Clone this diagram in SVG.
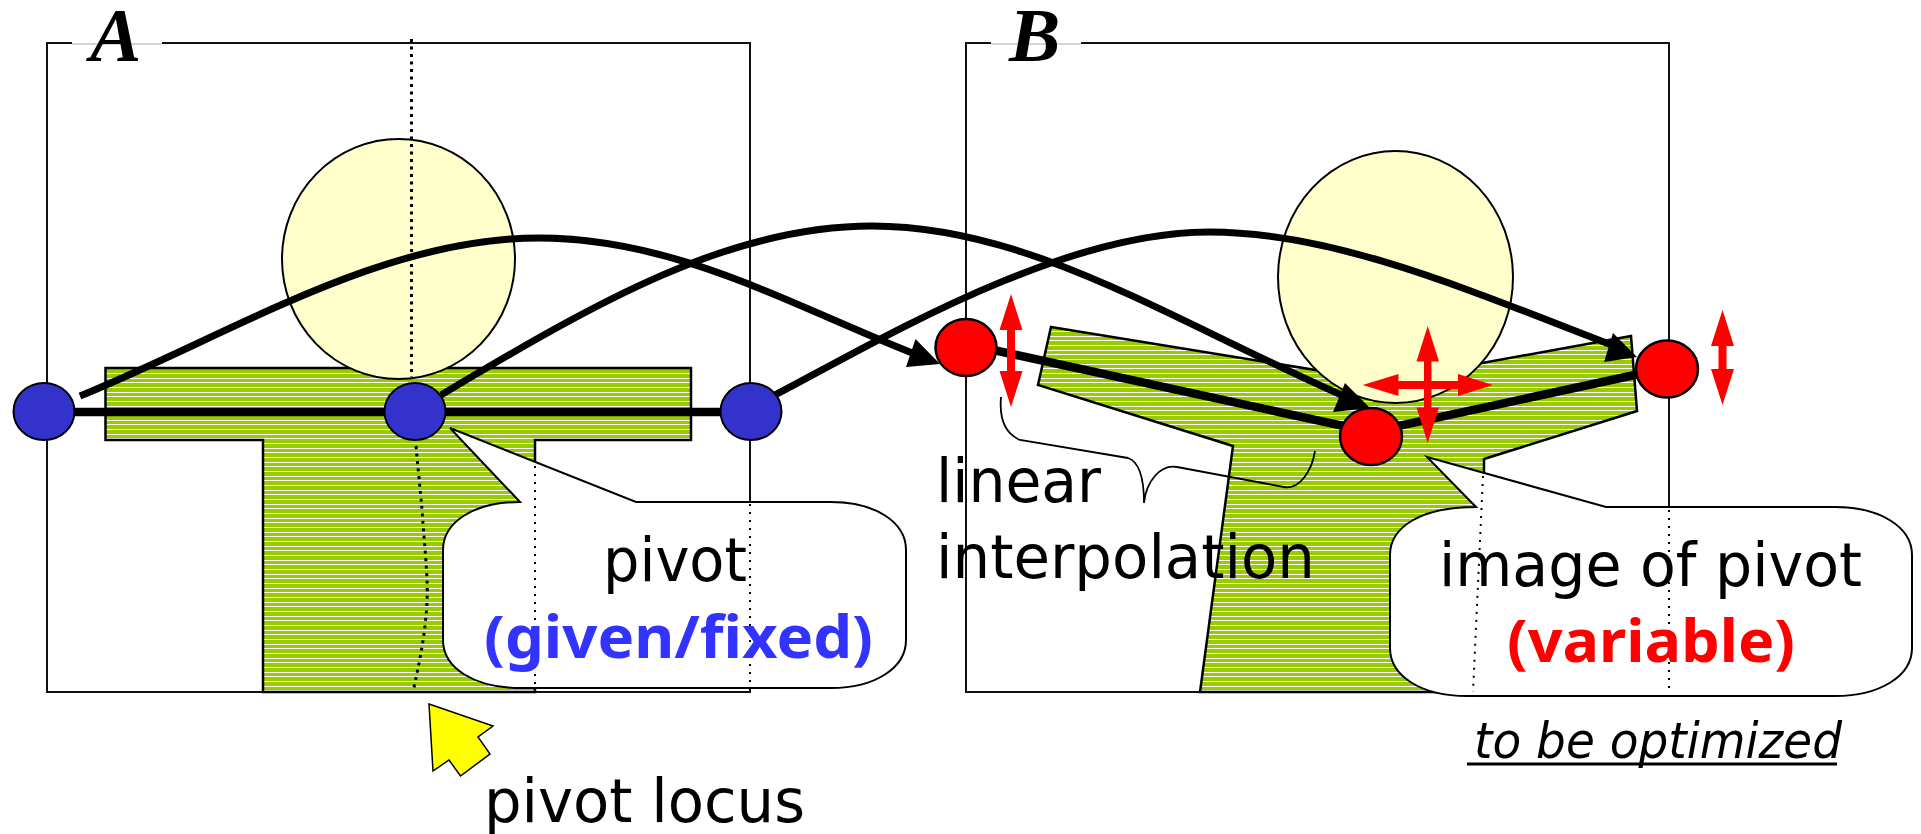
<svg xmlns="http://www.w3.org/2000/svg" width="1921" height="834" viewBox="0 0 1921 834">
  <style>
    .frame { fill: none; stroke: #111; stroke-width: 2; }
    .gap { stroke: #fff; stroke-width: 3; }
    .gapline { stroke: #aaa; stroke-width: 1; }
    .body { fill: url(#stripes); stroke: #000; stroke-width: 2.5; }
    .head { fill: #ffffcc; stroke: #000; stroke-width: 2; }
    .fixed { fill: #3333cc; stroke: #000; stroke-width: 2; }
    .var { fill: #ff0000; stroke: #000; stroke-width: 2.5; }
    .bubble { fill: #fff; stroke: #000; stroke-width: 2; }
    .thick { fill: none; stroke: #000; stroke-width: 8.5; }
    .curve { fill: none; stroke: #000; stroke-width: 7; stroke-linejoin: round; }
    .tip { fill: #000; }
    .dots { fill: none; stroke: #000; stroke-width: 3; stroke-dasharray: 3 4.5; }
    .fine { fill: none; stroke: #000; stroke-width: 2; stroke-dasharray: 2 6; }
    .move { fill: #ff0000; }
    .letter { font-family: "Liberation Serif", serif; font-weight: bold; font-style: italic; font-size: 77px; fill: #000; }
    .t { font-family: "DejaVu Sans", sans-serif; font-size: 60px; fill: #000; }
    .b { font-family: "Noto Sans", "DejaVu Sans", sans-serif; font-weight: bold; font-size: 60px; }
    .i { font-family: "DejaVu Sans", sans-serif; font-style: italic; font-size: 50px; fill: #000; }
  </style>
  <defs>
    <pattern id="stripes" patternUnits="userSpaceOnUse" width="14" height="14">
      <rect width="14" height="14" fill="#99cc00"/>
      <rect y="0" width="14" height="1" fill="#fff"/>
      <rect y="4" width="14" height="1" fill="#fff"/>
      <rect y="9" width="14" height="1" fill="#fff"/>
    </pattern>
  </defs>

  <g id="panel-a">
    <rect class="frame" x="47" y="43" width="703" height="649"/>
    <path class="gap" d="M72 43H162"/>
    <path class="gapline" d="M72 44H162"/>
    <text class="letter" x="90" y="61">A</text>
    <path class="body" d="M105.500 368H691V440H535V692H263V440H105.500Z"/>
    <ellipse class="head" cx="398.500" cy="259" rx="116.500" ry="120"/>
    <path class="dots" d="M411.500 39V377"/>
    <path id="pivot-locus" class="dots" d="M416 446C419 480 422 505 423 524C426 560 428 585 427 600C426 630 420 660 413 692"/>
  </g>

  <g id="panel-b">
    <rect class="frame" x="966" y="43" width="703" height="649"/>
    <path class="gap" d="M991 43H1081"/>
    <path class="gapline" d="M991 44H1081"/>
    <text class="letter" x="1009" y="61">B</text>
    <path class="body" d="M1051 327L1383 381L1631 336L1637 411L1484 459L1484 472L1473 692H1200L1233 446L1038 385Z"/>
    <ellipse class="head" cx="1395.500" cy="277" rx="117.500" ry="126"/>
  </g>

  <g id="callout-pivot">
    <path class="bubble" d="M520 502L450 428L636 502H831C875 502 906 522 906 550V640C906 668 875 688 831 688H521C474 688 443 668 443 640V550C443 522 474 502 520 502Z"/>
    <path class="fine" d="M535 466V688M750 504V688"/>
    <text class="t" x="675" y="581" text-anchor="middle" textLength="144" lengthAdjust="spacingAndGlyphs">pivot</text>
    <text class="b" x="678.500" y="658" text-anchor="middle" fill="#3333ff" textLength="389" lengthAdjust="spacingAndGlyphs">(given/fixed)</text>
  </g>

  <g id="callout-image">
    <path class="bubble" d="M1476 507L1427 457L1606 507H1835C1880 507 1912 527 1912 555V648C1912 676 1880 696 1835 696H1467C1421 696 1390 676 1390 648V555C1390 527 1421 507 1476 507Z"/>
    <path class="fine" d="M1483 476L1473 692M1669 510V692"/>
    <text class="t" x="1650.500" y="585.500" text-anchor="middle" textLength="423" lengthAdjust="spacingAndGlyphs">image of pivot</text>
    <text class="b" x="1651" y="662" text-anchor="middle" fill="#ff0000" textLength="288" lengthAdjust="spacingAndGlyphs">(variable)</text>
  </g>

  <g id="interpolation-label">
    <path fill="none" stroke="#000" stroke-width="1.800" d="M1001 397C999 420 1006 434 1020 440L1128 458C1140 462 1144 480 1144 503C1146 482 1160 464 1177 467L1284 487C1300 490 1312 470 1315 451"/>
    <text class="t" x="936" y="501.500" textLength="165" lengthAdjust="spacingAndGlyphs">linear</text>
    <text class="t" x="936" y="578" textLength="379" lengthAdjust="spacingAndGlyphs">interpolation</text>
  </g>

  <g id="connectors">
    <path class="thick" d="M44 412H751"/>
    <path class="thick" d="M966 344L1371 432L1667 368"/>
    <path class="curve" d="M80 396C230 335 380 238 539 238C680 238 800 310 925 358"/>
    <polygon class="tip" points="940,364 915.500,339 906,367"/>
    <path class="curve" d="M441 395C600 300 730 226 872 226C1030 226 1170 320 1348 398"/>
    <polygon class="tip" points="1370,408 1345,383 1333,412"/>
    <path class="curve" d="M775 395C880 340 1060 232 1209 232C1340 232 1480 295 1622 349"/>
    <polygon class="tip" points="1637,357 1613,333 1604,362"/>
  </g>

  <g id="pivot-left"><ellipse class="fixed" cx="44" cy="411.500" rx="30.500" ry="28.500"/></g>
  <g id="pivot-middle"><ellipse class="fixed" cx="415" cy="411.500" rx="30.500" ry="28.500"/></g>
  <g id="pivot-right"><ellipse class="fixed" cx="751" cy="411.500" rx="30.500" ry="28.500"/></g>
  <g id="image-left"><ellipse class="var" cx="966" cy="347.500" rx="30.500" ry="28.500"/></g>
  <g id="image-middle"><ellipse class="var" cx="1371" cy="436.500" rx="31" ry="28.500"/></g>
  <g id="image-right"><ellipse class="var" cx="1667" cy="369" rx="31" ry="28.500"/></g>

  <g id="movement-arrows">
    <polygon class="move" points="1011,294 1022.500,330 1015,330 1015,371 1022.500,371 1011,407 999.500,371 1007,371 1007,330 999.500,330"/>
    <polygon class="move" points="1722.500,310 1734,346 1726.500,346 1726.500,369 1734,369 1722.500,405 1711,369 1718.500,369 1718.500,346 1711,346"/>
    <polygon class="move" points="1427.700,326 1439,361.500 1431.500,361.500 1431.500,381 1458,381 1458,374 1493,385 1458,396 1458,389 1431.500,389 1431.500,407.500 1439,407.500 1427.700,443 1416.500,407.500 1424,407.500 1424,389 1398.500,389 1398.500,396 1362.700,385 1398.500,374 1398.500,381 1424,381 1424,361.500 1416.500,361.500"/>
  </g>

  <g id="locus-pointer">
    <polygon fill="#ffff00" stroke="#000" stroke-width="1.500" points="429,704 493,726 478,737 490,754 460.500,776 449,760 433,771"/>
    <text class="t" x="484" y="822" textLength="321" lengthAdjust="spacingAndGlyphs">pivot locus</text>
  </g>

  <g id="note">
    <text class="i" x="1474" y="758" textLength="368" lengthAdjust="spacingAndGlyphs">to be optimized</text>
    <path stroke="#000" stroke-width="3" d="M1467 764H1837"/>
  </g>
</svg>
